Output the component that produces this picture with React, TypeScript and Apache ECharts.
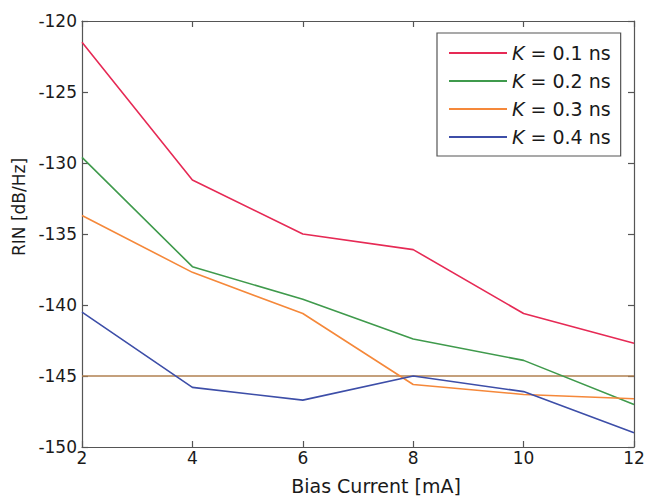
import React, { useEffect, useRef } from "react";
import * as echarts from "echarts";

const biasCurrent = [2, 4, 6, 8, 10, 12];
const seriesNames = ["K = 0.1 ns", "K = 0.2 ns", "K = 0.3 ns", "K = 0.4 ns"];
const rinK01 = [-121.5, -131.2, -135.0, -136.1, -140.6, -142.7];
const rinK02 = [-129.6, -137.3, -139.6, -142.4, -143.9, -147.0];
const rinK03 = [-133.7, -137.7, -140.6, -145.6, -146.3, -146.6];
const rinK04 = [-140.5, -145.8, -146.7, -145.0, -146.1, -149.0];
const thresholdX = [2, 12];
const thresholdY = [-145, -145];
const seriesColors = ["#e62a55", "#3f9a4c", "#f5883a", "#3d4ea8"];
const thresholdColor = "#b08050";

const FONT = "DejaVu Sans";

export default function App() {
  const ref = useRef<HTMLDivElement>(null);
  useEffect(() => {
    if (!ref.current) return;
    const chart = echarts.init(ref.current, null, { renderer: "svg" });
    const values = [rinK01, rinK02, rinK03, rinK04];
    const lineSeries = values.map((vals, i) => ({
      name: seriesNames[i],
      type: "line",
      data: biasCurrent.map((x, j) => [x, vals[j]]),
      showSymbol: false,
      symbol: "none",
      lineStyle: { color: seriesColors[i], width: 1.6 },
      itemStyle: { color: seriesColors[i] },
      z: 3,
    }));
    const axisLine = { show: true, lineStyle: { color: "#555", width: 1.2 } };
    const axisTick = { show: true, inside: true, length: 6, lineStyle: { color: "#555", width: 1.2 } };
    chart.setOption({
      animation: false,
      backgroundColor: "#fff",
      grid: { left: 82, right: 14, top: 21, bottom: 53, containLabel: false },
      legend: {
        data: seriesNames,
        orient: "vertical",
        left: 437,
        top: 33,
        padding: [10, 10, 9, 12],
        itemGap: 8,
        itemWidth: 58,
        itemHeight: 14,
        borderColor: "#555",
        borderWidth: 1.2,
        backgroundColor: "#fff",
        icon: "path://M0,6 L58,6 L58,8 L0,8 Z",
        formatter: (name: string) => "{i|K}" + name.slice(1),
        textStyle: {
          fontFamily: FONT,
          fontSize: 19,
          color: "#1a1a1a",
          lineHeight: 20,
          rich: {
            i: { fontFamily: FONT, fontSize: 19, fontStyle: "italic", color: "#1a1a1a", lineHeight: 20 },
          },
        },
      },
      xAxis: [
        {
          type: "value",
          min: 2,
          max: 12,
          interval: 2,
          position: "bottom",
          name: "Bias Current [mA]",
          nameLocation: "middle",
          nameGap: 29,
          nameTextStyle: { fontFamily: FONT, fontSize: 19, color: "#1a1a1a", padding: [0, 0, 0, 36] },
          axisLine,
          axisTick,
          splitLine: { show: false },
          axisLabel: { fontFamily: FONT, fontSize: 17, color: "#1a1a1a", margin: 2 },
        },
        {
          type: "value",
          min: 2,
          max: 12,
          interval: 2,
          position: "top",
          axisLine,
          axisTick,
          splitLine: { show: false },
          axisLabel: { show: false },
        },
      ],
      yAxis: [
        {
          type: "value",
          min: -150,
          max: -120,
          interval: 5,
          position: "left",
          name: "RIN [dB/Hz]",
          nameLocation: "middle",
          nameRotate: 90,
          nameGap: 47,
          nameTextStyle: { fontFamily: FONT, fontSize: 17, color: "#1a1a1a", padding: [0, 0, 0, 54] },
          axisLine,
          axisTick,
          splitLine: { show: false },
          axisLabel: { fontFamily: FONT, fontSize: 17, color: "#1a1a1a", margin: 5 },
        },
        {
          type: "value",
          min: -150,
          max: -120,
          interval: 5,
          position: "right",
          axisLine,
          axisTick,
          splitLine: { show: false },
          axisLabel: { show: false },
        },
      ],
      series: [
        ...lineSeries,
        {
          name: "threshold",
          type: "line",
          data: thresholdX.map((x, j) => [x, thresholdY[j]]),
          showSymbol: false,
          symbol: "none",
          lineStyle: { color: thresholdColor, width: 1.6 },
          z: 2,
        },
      ],
    });
    return () => chart.dispose();
  }, []);
  return (
    <div
      ref={ref}
      style={{ position: "fixed", left: 0, top: 0, width: 648, height: 500, background: "#fff" }}
    />
  );
}
